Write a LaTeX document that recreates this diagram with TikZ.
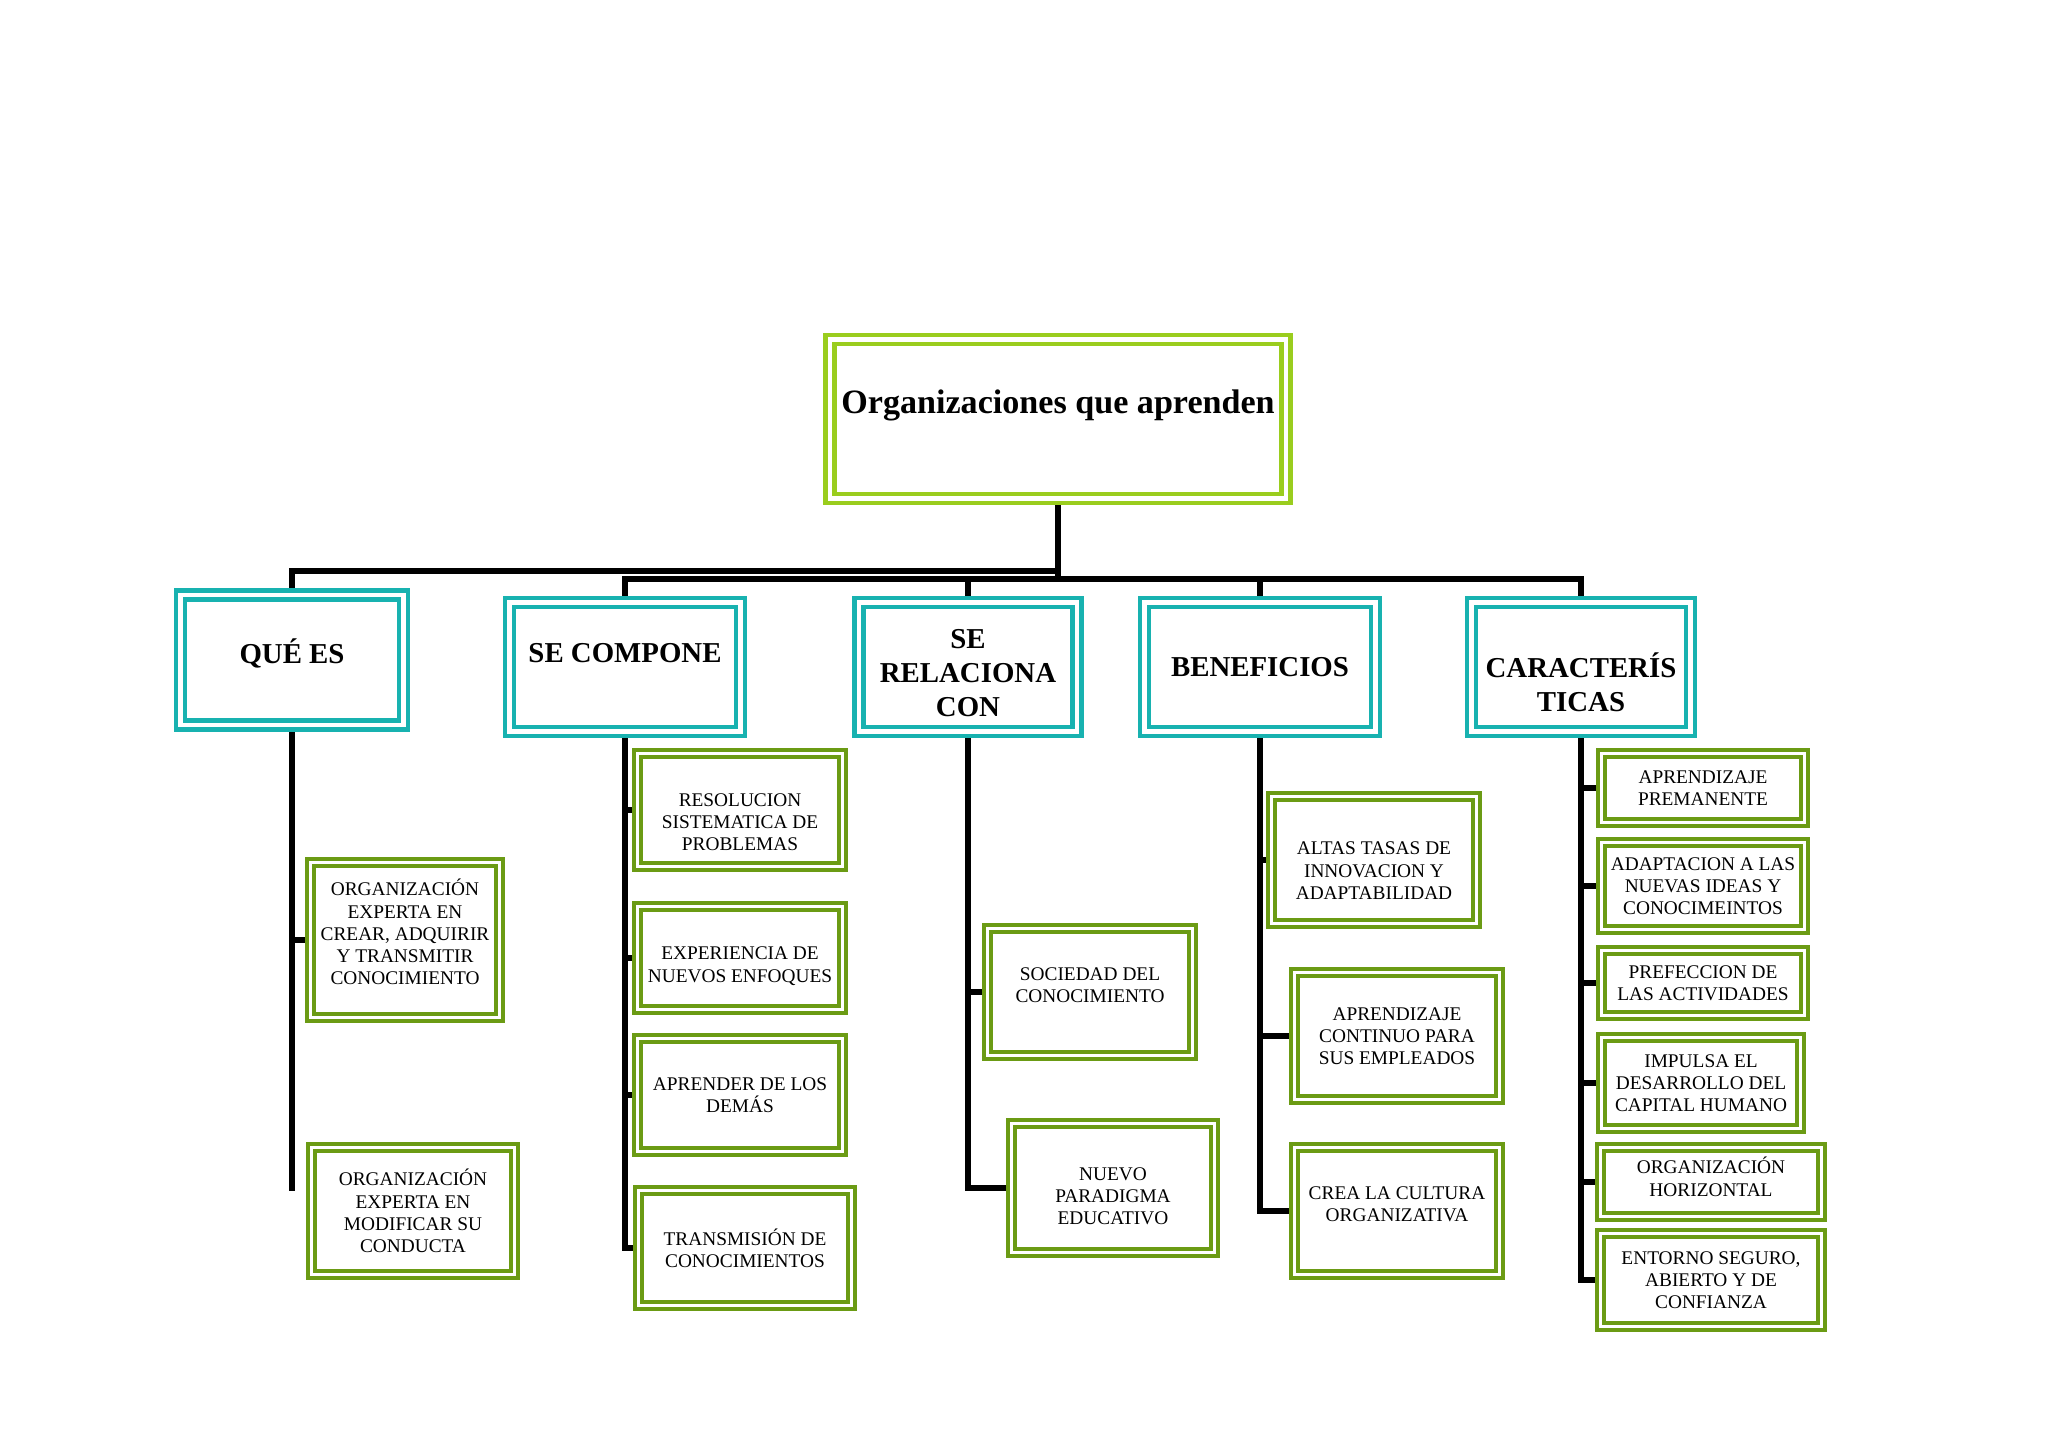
\documentclass[tikz,border=0pt]{standalone}
\usepackage{fontspec}
\setmainfont{Liberation Serif}
\usepackage{xcolor}
\usepackage{tikz}
\usetikzlibrary{positioning, backgrounds}

\definecolor{limeline}{RGB}{154,205,30}
\definecolor{tealline}{RGB}{24,178,176}
\definecolor{leafline}{RGB}{107,155,20}

\begin{document}
\begin{tikzpicture}[
    x=0.01cm, y=-0.01cm,
    frame/.style={rectangle, fill=white, double=white, line width=0.045cm, double distance=0.045cm, inner sep=2pt, align=center},
    topbox/.style={frame, draw=limeline, font=\fontsize{9.7}{11.6}\selectfont\bfseries},
    catbox/.style={frame, draw=tealline, minimum height=1.285cm, font=\fontsize{8.2}{9.7}\selectfont\bfseries},
    leaf/.style={frame, draw=leafline, line width=0.04cm, double distance=0.03cm, font=\fontsize{5.5}{6.3}\selectfont},
    textdown/.style={execute at begin node={\rule{0pt}{#1}}},
    textup/.style={execute at end node={\rule[-#1]{0pt}{0pt}}},
    conn/.style={line width=0.055cm, black}
]
\useasboundingbox (0,0) rectangle (2048,1448);

\node[topbox, minimum width=4.555cm, minimum height=1.585cm, text height=7pt, text depth=10pt] (org) at (1058,419) {Organizaciones que aprenden};

\node[catbox, minimum width=2.225cm, minimum height=1.295cm, textup=5.3pt] (qe) at (292,660) {QUÉ ES};
\node[catbox, minimum width=2.305cm, text height=5.6pt, text depth=8.2pt] (cs) at (625,667) {SE COMPONE};
\node[catbox, minimum width=2.175cm, textdown=28.5pt] (rel) at (968,667) {SE\\RELACIONA\\CON};
\node[catbox, minimum width=2.305cm] (ben) at (1260,667) {BENEFICIOS};
\node[catbox, minimum width=2.185cm, textdown=25.3pt] (car) at (1581,667) {CARACTERÍS\\TICAS};

% que es
\node[leaf, minimum width=1.88cm, minimum height=1.54cm, textup=4.6pt] (q1) at (405,940) {ORGANIZACIÓN\\EXPERTA EN\\CREAR, ADQUIRIR\\Y TRANSMITIR\\CONOCIMIENTO};
\node[leaf, minimum width=2.03cm, minimum height=1.26cm] (q2) at (413,1211) {ORGANIZACIÓN\\EXPERTA EN\\MODIFICAR SU\\CONDUCTA};

% se compone
\node[leaf, minimum width=2.04cm, minimum height=1.13cm, textdown=23.1pt] (r1) at (740,810) {RESOLUCION\\SISTEMATICA DE\\PROBLEMAS};
\node[leaf, minimum width=2.04cm, minimum height=1.03cm, textdown=14.6pt] (r2) at (740,958) {EXPERIENCIA DE\\NUEVOS ENFOQUES};
\node[leaf, minimum width=2.04cm, minimum height=1.13cm] (r3) at (740,1095) {APRENDER DE LOS\\DEMÁS};
\node[leaf, minimum width=2.13cm, minimum height=1.14cm] (r4) at (745,1248) {TRANSMISIÓN DE\\CONOCIMIENTOS};

% se relaciona con
\node[leaf, minimum width=2.04cm, minimum height=1.27cm, textup=3.7pt] (s1) at (1090,992) {SOCIEDAD DEL\\CONOCIMIENTO};
\node[leaf, minimum width=2.03cm, minimum height=1.28cm, textdown=20.9pt] (s2) at (1113,1188) {NUEVO\\PARADIGMA\\EDUCATIVO};

% beneficios
\node[leaf, minimum width=2.04cm, minimum height=1.27cm, textdown=22.3pt] (b1) at (1374,860) {ALTAS TASAS DE\\INNOVACION Y\\ADAPTABILIDAD};
\node[leaf, minimum width=2.05cm, minimum height=1.26cm] (b2) at (1397,1036) {APRENDIZAJE\\CONTINUO PARA\\SUS EMPLEADOS};
\node[leaf, minimum width=2.05cm, minimum height=1.27cm, textup=3.7pt] (b3) at (1397,1211) {CREA LA CULTURA\\ORGANIZATIVA};

% caracteristicas
\node[leaf, minimum width=2.03cm, minimum height=0.69cm] (c1) at (1703,788) {APRENDIZAJE\\PREMANENTE};
\node[leaf, minimum width=2.03cm, minimum height=0.87cm] (c2) at (1703,886) {ADAPTACION A LAS\\NUEVAS IDEAS Y\\CONOCIMEINTOS};
\node[leaf, minimum width=2.03cm, minimum height=0.64cm] (c3) at (1703,983) {PREFECCION DE\\LAS ACTIVIDADES};
\node[leaf, minimum width=1.99cm, minimum height=0.91cm] (c4) at (1701,1083) {IMPULSA EL\\DESARROLLO DEL\\CAPITAL HUMANO};
\node[leaf, minimum width=2.20cm, minimum height=0.69cm, textup=3pt] (c5) at (1711,1182) {ORGANIZACIÓN\\HORIZONTAL};
\node[leaf, minimum width=2.20cm, minimum height=0.92cm] (c6) at (1711,1280) {ENTORNO SEGURO,\\ABIERTO Y DE\\CONFIANZA};

\begin{scope}[on background layer]
\coordinate (bar1) at (0,571);
\coordinate (bar2) at (0,579);
\coordinate (qend) at (292,1191);
\draw[conn] (org.south) -- (org.south |- bar2);
\draw[conn] (org.south |- bar1) -| (qe.north);
\draw[conn] (cs.north) |- (car.north |- bar2) -- (car.north);
\foreach \n in {rel,ben}
    \draw[conn] (\n.north) -- (\n.north |- bar2);
% trunks
\draw[conn] (qe.south) -- (qend);
\draw[conn] (qe.south |- q1.west) -- (q1.west);
\draw[conn] (cs.south) |- (r4.west);
\foreach \n in {r1,r2,r3}
    \draw[conn] (cs.south |- \n.west) -- (\n.west);
\draw[conn] (rel.south) |- (s2.west);
\draw[conn] (rel.south |- s1.west) -- (s1.west);
\draw[conn] (ben.south) |- (b3.west);
\foreach \n in {b1,b2}
    \draw[conn] (ben.south |- \n.west) -- (\n.west);
\draw[conn] (car.south) |- (c6.west);
\foreach \n in {c1,c2,c3,c4,c5}
    \draw[conn] (car.south |- \n.west) -- (\n.west);
\end{scope}
\end{tikzpicture}
\end{document}
